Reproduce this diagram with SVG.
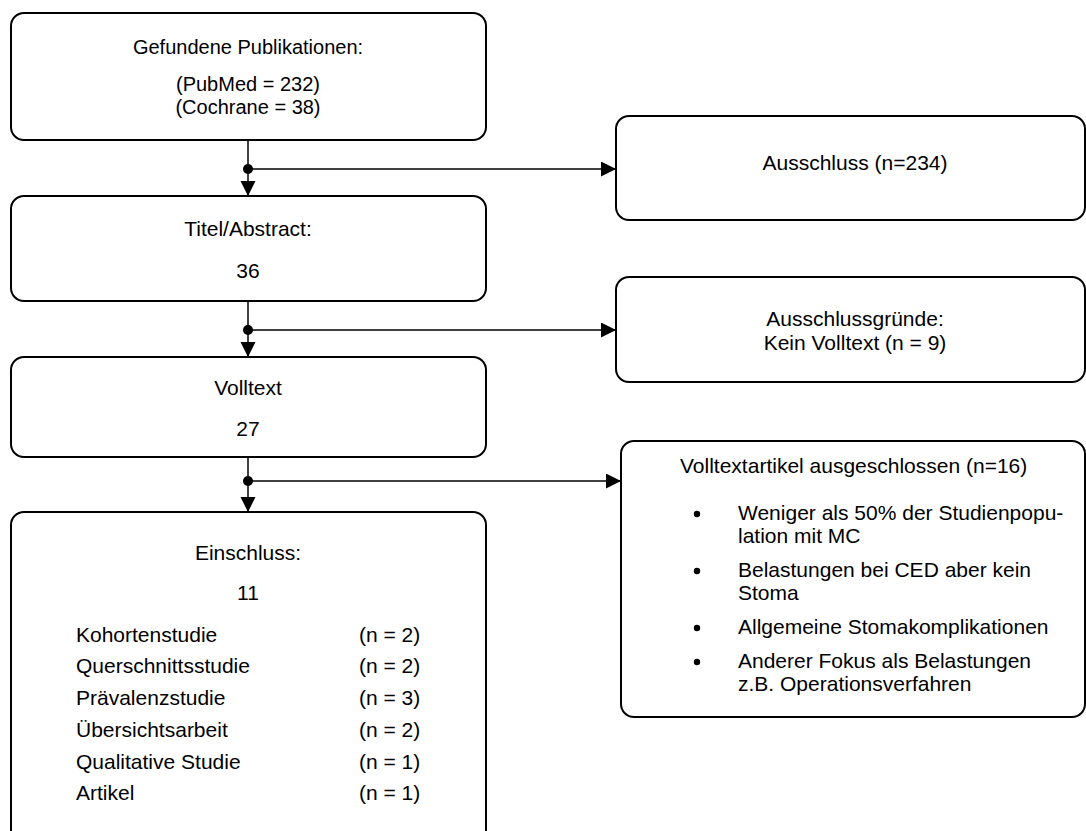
<svg xmlns="http://www.w3.org/2000/svg" width="1086" height="831" viewBox="0 0 1086 831">
<defs>
<style>
.box{fill:#fff;stroke:#000;stroke-width:2}
.t{font-family:"Liberation Sans",Arial,sans-serif;font-size:21px;fill:#000}
.t20{font-family:"Liberation Sans",Arial,sans-serif;font-size:20px;fill:#000}
.m{text-anchor:middle}
.c{fill:none;stroke:#000;stroke-width:1.5}
</style>
<marker id="arr" markerUnits="userSpaceOnUse" markerWidth="16" markerHeight="16" refX="15" refY="7.5" orient="auto">
<path d="M0,0 L15,7.5 L0,15 z" fill="#000"/>
</marker>
<marker id="dot" markerUnits="userSpaceOnUse" markerWidth="12" markerHeight="12" refX="6" refY="6" orient="auto">
<circle cx="6" cy="6" r="5" fill="#000"/>
</marker>
</defs>
<rect width="1086" height="831" fill="#fff"/>
<g id="connectors">
<path class="c" d="M248,140 V196" marker-end="url(#arr)"/>
<path class="c" d="M248,169 H616" marker-start="url(#dot)" marker-end="url(#arr)"/>
<path class="c" d="M248,301 V357" marker-end="url(#arr)"/>
<path class="c" d="M248,330 H616" marker-start="url(#dot)" marker-end="url(#arr)"/>
<path class="c" d="M248,457 V512" marker-end="url(#arr)"/>
<path class="c" d="M248,481 H621" marker-start="url(#dot)" marker-end="url(#arr)"/>
</g>
<g id="n-gefunden">
<rect class="box" x="11" y="13" width="475" height="127" rx="13"/>
<text class="t20 m" x="248" y="54">Gefundene Publikationen:</text>
<text class="t20 m" x="248" y="91">(PubMed = 232)</text>
<text class="t20 m" x="248" y="114">(Cochrane = 38)</text>
</g>
<g id="n-titel">
<rect class="box" x="11" y="196" width="475" height="105" rx="13"/>
<text class="t m" x="248" y="236">Titel/Abstract:</text>
<text class="t m" x="248" y="278">36</text>
</g>
<g id="n-volltext">
<rect class="box" x="11" y="357" width="475" height="100" rx="13"/>
<text class="t m" x="248" y="395">Volltext</text>
<text class="t m" x="248" y="436">27</text>
</g>
<g id="n-einschluss">
<rect class="box" x="11" y="512" width="475" height="340" rx="13"/>
<text class="t m" x="248" y="560">Einschluss:</text>
<text class="t m" x="248" y="600">11</text>
<text class="t" x="76" y="642">Kohortenstudie</text>
<text class="t" x="359" y="642">(n = 2)</text>
<text class="t" x="76" y="673">Querschnittsstudie</text>
<text class="t" x="359" y="673">(n = 2)</text>
<text class="t" x="76" y="705">Prävalenzstudie</text>
<text class="t" x="359" y="705">(n = 3)</text>
<text class="t" x="76" y="737">Übersichtsarbeit</text>
<text class="t" x="359" y="737">(n = 2)</text>
<text class="t" x="76" y="769">Qualitative Studie</text>
<text class="t" x="359" y="769">(n = 1)</text>
<text class="t" x="76" y="800">Artikel</text>
<text class="t" x="359" y="800">(n = 1)</text>
</g>
<g id="n-ausschluss">
<rect class="box" x="616" y="116" width="469" height="104" rx="13"/>
<text class="t m" x="855" y="170">Ausschluss (n=234)</text>
</g>
<g id="n-gruende">
<rect class="box" x="616" y="277" width="469" height="105" rx="13"/>
<text class="t m" x="855" y="326">Ausschlussgründe:</text>
<text class="t m" x="855" y="350">Kein Volltext (n = 9)</text>
</g>
<g id="n-volltextartikel">
<rect class="box" x="621" y="441" width="464" height="276" rx="13"/>
<text class="t" x="680" y="473">Volltextartikel ausgeschlossen (n=16)</text>
<circle cx="697" cy="514" r="3.2" fill="#000"/>
<text class="t" x="738" y="520">Weniger als 50% der Studienpopu-</text>
<text class="t" x="738" y="543">lation mit MC</text>
<circle cx="697" cy="571" r="3.2" fill="#000"/>
<text class="t" x="738" y="577">Belastungen bei CED aber kein</text>
<text class="t" x="738" y="600">Stoma</text>
<circle cx="697" cy="628" r="3.2" fill="#000"/>
<text class="t" x="738" y="634">Allgemeine Stomakomplikationen</text>
<circle cx="697" cy="662" r="3.2" fill="#000"/>
<text class="t" x="738" y="668">Anderer Fokus als Belastungen</text>
<text class="t" x="738" y="691">z.B. Operationsverfahren</text>
</g>
</svg>
